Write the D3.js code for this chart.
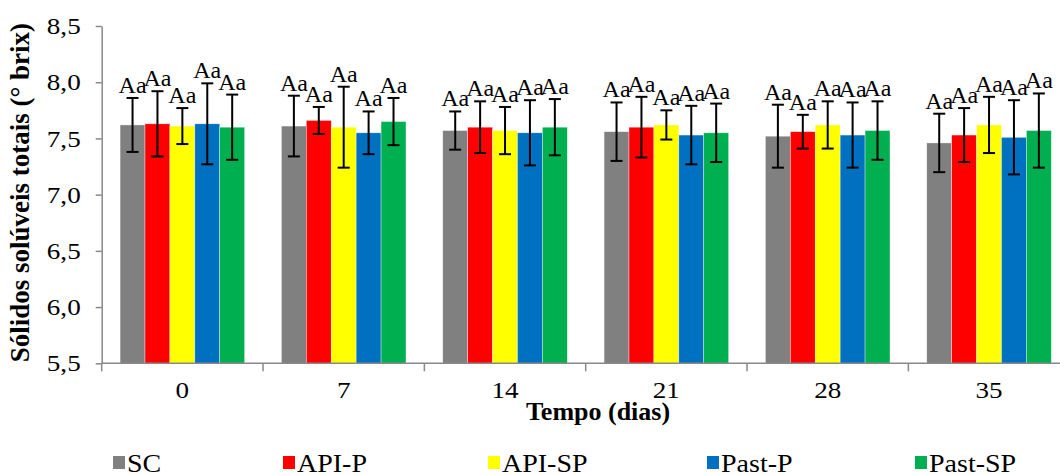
<!DOCTYPE html>
<html>
<head>
<meta charset="utf-8">
<script src="https://cdn.jsdelivr.net/npm/d3@7"></script>
<style>
  html, body { margin: 0; padding: 0; background: #fff; }
  svg { display: block; }
</style>
</head>
<body>
<svg id="chart" width="1060" height="475"></svg>
<script>
// ---- data ----
const categories = ["0", "7", "14", "21", "28", "35"];
const seriesNames = ["SC", "API-P", "API-SP", "Past-P", "Past-SP"];
const SC        = [7.62, 7.61, 7.57, 7.56, 7.52, 7.46];
const SC_err    = [0.24, 0.27, 0.17, 0.26, 0.28, 0.26];
const API_P     = [7.63, 7.66, 7.60, 7.60, 7.56, 7.53];
const API_P_err = [0.29, 0.12, 0.23, 0.27, 0.15, 0.24];
const API_SP    = [7.61, 7.60, 7.57, 7.62, 7.62, 7.62];
const API_SP_err= [0.16, 0.36, 0.21, 0.13, 0.21, 0.25];
const Past_P    = [7.63, 7.55, 7.55, 7.53, 7.53, 7.51];
const Past_P_err= [0.36, 0.19, 0.29, 0.26, 0.29, 0.33];
const Past_SP   = [7.60, 7.65, 7.60, 7.55, 7.57, 7.57];
const Past_SP_err=[0.29, 0.21, 0.25, 0.26, 0.26, 0.33];
const letterLabels = ["Aa", "Aa", "Aa", "Aa", "Aa"];
const yTicks = [5.5, 6.0, 6.5, 7.0, 7.5, 8.0, 8.5];
const xTitle = "Tempo (dias)";
const yTitle = "Sólidos solúveis totais (° brix)";

// ---- styles / layout ----
const FONT = "'Liberation Serif', 'Times New Roman', Times, serif";
const colors = ["#808080", "#FF0000", "#FFFF00", "#0070C0", "#00B050"];
const axisColor = "#898989";
const values = [SC, API_P, API_SP, Past_P, Past_SP];
const errors = [SC_err, API_P_err, API_SP_err, Past_P_err, Past_SP_err];

const svg = d3.select("#chart");
svg.append("rect").attr("width", 1060).attr("height", 475).attr("fill", "#fff");

const plot = { left: 101.7, right: 1069.7, top: 26, bottom: 363.3 };

const x = d3.scaleBand().domain(categories)
  .range([plot.left, plot.right])
  .paddingInner(0.228).paddingOuter(0.114);
const xs = d3.scaleBand().domain(seriesNames).range([0, x.bandwidth()]);
const y = d3.scaleLinear().domain([5.5, 8.5]).range([plot.bottom, plot.top]);

// bars
const rows = [];
categories.forEach((c, i) => {
  seriesNames.forEach((s, j) => {
    rows.push({ c, s, j, v: values[j][i], e: errors[j][i], lab: letterLabels[j] });
  });
});

const g = svg.append("g");
g.selectAll("rect.bar").data(rows).enter().append("rect")
  .attr("class", "bar")
  .attr("x", d => x(d.c) + xs(d.s))
  .attr("y", d => y(d.v))
  .attr("width", xs.bandwidth())
  .attr("height", d => y(5.5) - y(d.v))
  .attr("fill", d => colors[d.j])
  .attr("stroke", "#fff").attr("stroke-width", 0.6).attr("stroke-opacity", 0.6);

// error bars
const cx = d => x(d.c) + xs(d.s) + xs.bandwidth() / 2;
const eb = g.selectAll("g.err").data(rows).enter().append("g").attr("class", "err")
  .attr("stroke", "#000").attr("stroke-width", 2);
eb.append("line")
  .attr("x1", cx).attr("x2", cx)
  .attr("y1", d => y(d.v + d.e)).attr("y2", d => y(d.v - d.e));
eb.append("line")
  .attr("x1", d => cx(d) - 6).attr("x2", d => cx(d) + 6)
  .attr("y1", d => y(d.v + d.e)).attr("y2", d => y(d.v + d.e));
eb.append("line")
  .attr("x1", d => cx(d) - 6).attr("x2", d => cx(d) + 6)
  .attr("y1", d => y(d.v - d.e)).attr("y2", d => y(d.v - d.e));

// letter labels
g.selectAll("text.lab").data(rows).enter().append("text")
  .attr("class", "lab")
  .attr("x", cx)
  .attr("y", d => y(d.v + d.e) - 5)
  .attr("text-anchor", "middle")
  .style("font-family", FONT).style("font-size", "24px").style("fill", "#000")
  .text(d => d.lab);

// y axis
const yAxis = d3.axisLeft(y).tickValues(yTicks).tickSize(6).tickSizeOuter(0)
  .tickFormat(d => d3.format(".1f")(d).replace(".", ","));
const ya = svg.append("g").attr("transform", `translate(${plot.left},0)`).call(yAxis);
ya.select(".domain").attr("stroke", axisColor).attr("stroke-width", 1.5);
ya.selectAll(".tick line").attr("stroke", axisColor).attr("stroke-width", 1.5);
ya.selectAll(".tick text").attr("x", null).attr("dy", "0.32em")
  .attr("transform", "translate(-21,0) scale(1.13,1)")
  .style("font-family", FONT).style("font-size", "24px").style("fill", "#000");

// x axis
const xa = svg.append("g");
xa.append("line").attr("x1", plot.left).attr("x2", plot.right)
  .attr("y1", plot.bottom).attr("y2", plot.bottom)
  .attr("stroke", axisColor).attr("stroke-width", 1.5);
const step = x.step();
const bounds = d3.range(categories.length + 1).map(i => plot.left + i * step);
xa.selectAll("line.xt").data(bounds).enter().append("line").attr("class", "xt")
  .attr("x1", d => d).attr("x2", d => d)
  .attr("y1", plot.bottom).attr("y2", plot.bottom + 8)
  .attr("stroke", axisColor).attr("stroke-width", 1.5);
xa.selectAll("text.xl").data(categories).enter().append("text").attr("class", "xl")
  .attr("transform", d => `translate(${x(d) + x.bandwidth() / 2},398) scale(1.13,1)`)
  .attr("text-anchor", "middle")
  .style("font-family", FONT).style("font-size", "24px").style("fill", "#000")
  .text(d => d);

// titles
svg.append("text")
  .attr("transform", "translate(598,420) scale(1.04,1)")
  .attr("text-anchor", "middle")
  .style("font-family", FONT).style("font-size", "25px").style("font-weight", "bold")
  .text(xTitle);
svg.append("text")
  .attr("transform", `translate(29,${(plot.top + plot.bottom) / 2 - 2}) rotate(-90)`)
  .attr("text-anchor", "middle")
  .style("font-family", FONT).style("font-size", "27px").style("font-weight", "bold")
  .text(yTitle);

// legend
const legendX = [113, 283, 488, 707, 915];
const lg = svg.selectAll("g.leg").data(seriesNames).enter().append("g").attr("class", "leg")
  .attr("transform", (d, i) => `translate(${legendX[i]},0)`);
lg.append("rect").attr("x", 0).attr("y", 456).attr("width", 12).attr("height", 13)
  .attr("fill", (d, i) => colors[i]);
lg.append("text").attr("transform", "translate(14,472) scale(1.12,1)")
  .style("font-family", FONT).style("font-size", "25px").style("fill", "#000")
  .text(d => d);
</script>
</body>
</html>
